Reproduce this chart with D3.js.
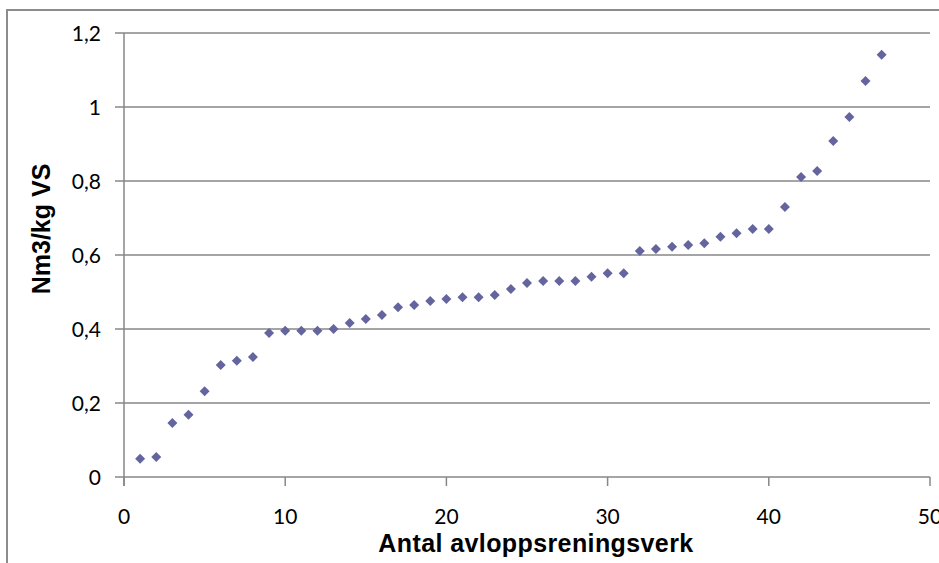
<!DOCTYPE html>
<html>
<head>
<meta charset="utf-8">
<script src="https://cdn.jsdelivr.net/npm/d3@7"></script>
<style>
    html, body { margin: 0; padding: 0; background: #fff; overflow: hidden; }
    svg { display: block; }
</style>
</head>
<body>
<div id="chart"></div>
<script>
// Sorted specific biogas yield per treatment plant (Nm3/kg VS).
const plantIndex = d3.range(1, 48);
const yieldValues = [
    0.049, 0.054, 0.146, 0.168, 0.232, 0.303, 0.314, 0.324, 0.389, 0.395,
    0.395, 0.395, 0.400, 0.416, 0.427, 0.438, 0.459, 0.465, 0.476, 0.481,
    0.486, 0.486, 0.492, 0.508, 0.524, 0.530, 0.530, 0.530, 0.541, 0.551,
    0.551, 0.611, 0.616, 0.622, 0.627, 0.632, 0.649, 0.659, 0.670, 0.670,
    0.730, 0.811, 0.827, 0.908, 0.973, 1.070, 1.141
];
const xTicks = [0, 10, 20, 30, 40, 50];
const yTicks = [0, 0.2, 0.4, 0.6, 0.8, 1, 1.2];
const yTickLabels = ['0', '0,2', '0,4', '0,6', '0,8', '1', '1,2'];
const xTitle = 'Antal avloppsreningsverk';
const yTitle = 'Nm3/kg VS';

const dataset = plantIndex.map((n, i) => ({x: n, value: yieldValues[i]}));

// Dimensions.
const totalWidth = 939;
const totalHeight = 563;
const margin = {top: 33, right: 9, bottom: 86, left: 124};
const width = totalWidth - margin.left - margin.right;
const height = totalHeight - margin.top - margin.bottom;
const gridColor = '#878787';

const root = d3.select('#chart')
    .append('svg')
        .attr('width', totalWidth)
        .attr('height', totalHeight);

// Chart area border (cut off at the right and bottom).
root.append('rect')
    .attr('x', 7)
    .attr('y', 10)
    .attr('width', 1200)
    .attr('height', 1200)
    .attr('fill', 'none')
    .attr('stroke', '#8c8c8c')
    .attr('stroke-width', 2);

const svg = root.append('g')
    .attr('transform', `translate(${margin.left},${margin.top})`);

// Scales.
const x = d3.scaleLinear()
    .domain([0, 50])
    .range([0, width]);
const y = d3.scaleLinear()
    .domain([0, 1.2])
    .range([height, 0]);

// Horizontal gridlines, with the little outside tick on the left.
svg.append('g')
    .selectAll('line')
    .data(yTicks)
    .enter()
    .append('line')
        .attr('x1', -9)
        .attr('x2', width)
        .attr('y1', d => y(d))
        .attr('y2', d => y(d))
        .attr('stroke', gridColor)
        .attr('stroke-width', 1.5);

// Y axis line.
svg.append('line')
    .attr('x1', 0)
    .attr('x2', 0)
    .attr('y1', 0)
    .attr('y2', height + 9)
    .attr('stroke', gridColor)
    .attr('stroke-width', 1.5);

// X axis ticks.
svg.append('g')
    .selectAll('line')
    .data(xTicks)
    .enter()
    .append('line')
        .attr('x1', d => x(d))
        .attr('x2', d => x(d))
        .attr('y1', height)
        .attr('y2', height + 9)
        .attr('stroke', gridColor)
        .attr('stroke-width', 1.5);

// Tick labels.
svg.append('g')
    .selectAll('text')
    .data(yTicks)
    .enter()
    .append('text')
        .attr('x', -23)
        .attr('y', d => y(d) + 8)
        .attr('text-anchor', 'end')
        .style('font-family', 'Lato, "Open Sans", sans-serif')
        .style('font-size', '21px')
        .text((d, i) => yTickLabels[i]);

svg.append('g')
    .selectAll('text')
    .data(xTicks)
    .enter()
    .append('text')
        .attr('x', d => x(d))
        .attr('y', height + 47)
        .attr('text-anchor', 'middle')
        .style('font-family', 'Lato, "Open Sans", sans-serif')
        .style('font-size', '21px')
        .text(d => d);

// Axis titles.
root.append('text')
    .attr('x', 536)
    .attr('y', 552)
    .attr('text-anchor', 'middle')
    .style('font-family', '"Liberation Sans", Arial, sans-serif')
    .style('font-weight', 'bold')
    .style('font-size', '25px')
    .style('letter-spacing', '0.4px')
    .text(xTitle);

root.append('text')
    .attr('transform', 'translate(50,229)rotate(-90)')
    .attr('text-anchor', 'middle')
    .style('font-family', '"Liberation Sans", Arial, sans-serif')
    .style('font-weight', 'bold')
    .style('font-size', '25px')
    .text(yTitle);

// Add the diamond markers.
svg.append('g')
    .selectAll('path')
    .data(dataset)
    .enter()
    .append('path')
        .attr('transform', d => `translate(${x(d.x)},${y(d.value)})rotate(45)`)
        .attr('d', d3.symbol(d3.symbolSquare, 50))
        .attr('fill', '#64659f');
</script>
</body>
</html>
